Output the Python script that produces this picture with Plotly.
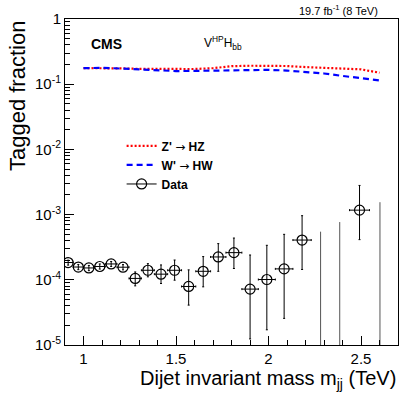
import plotly.graph_objects as go

# ---------------- data ----------------
bin_edges = [0.890, 0.944, 1.000, 1.058, 1.118, 1.181, 1.246, 1.313, 1.383, 1.455,
             1.530, 1.607, 1.687, 1.770, 1.856, 1.945, 2.037, 2.132, 2.231, 2.332,
             2.438, 2.546, 2.659]
data_frac = [1.84e-4, 1.57e-4, 1.52e-4, 1.60e-4, 1.75e-4, 1.56e-4, 1.05e-4, 1.40e-4,
             1.22e-4, 1.40e-4, 7.9e-5, 1.35e-4, 2.24e-4, 2.61e-4, 7.2e-5, 1.01e-4,
             1.47e-4, 4.07e-4, 0.0, 0.0, 1.17e-3, 0.0]
data_up = [2.00e-4, 1.72e-4, 1.66e-4, 1.75e-4, 1.91e-4, 1.71e-4, 1.32e-4, 1.77e-4,
           1.69e-4, 2.01e-4, 1.42e-4, 2.27e-4, 3.59e-4, 4.37e-4, 2.40e-4, 3.38e-4,
           4.98e-4, 9.62e-4, 5.47e-4, 7.69e-4, 2.80e-3, 1.55e-3]
data_lo = [1.68e-4, 1.43e-4, 1.38e-4, 1.46e-4, 1.60e-4, 1.42e-4, 8.07e-5, 1.11e-4,
           8.77e-5, 9.86e-5, 4.09e-5, 7.8e-5, 1.35e-4, 1.49e-4, 1.24e-5, 1.71e-5,
           2.56e-5, 1.44e-4, 0.0, 0.0, 4.13e-4, 0.0]

signal_mass = [1.0, 1.1, 1.2, 1.3, 1.4, 1.5, 1.6, 1.7, 1.8, 1.9, 2.0, 2.1, 2.2, 2.3,
               2.4, 2.5, 2.6]
zprime_hz = [0.176, 0.177, 0.175, 0.172, 0.171, 0.170, 0.171, 0.176, 0.189, 0.192,
             0.193, 0.190, 0.183, 0.178, 0.174, 0.169, 0.150]
wprime_hw = [0.176, 0.178, 0.174, 0.169, 0.163, 0.159, 0.160, 0.162, 0.165, 0.166,
             0.166, 0.162, 0.155, 0.146, 0.134, 0.122, 0.114]

y_tick_vals = [1e-5, 1e-4, 1e-3, 1e-2, 1e-1, 1]
y_tick_text = ["10<sup>-5</sup>", "10<sup>-4</sup>", "10<sup>-3</sup>",
               "10<sup>-2</sup>", "10<sup>-1</sup>", "1"]
x_tick_vals = [1, 1.5, 2, 2.5]
x_tick_text = ["1", "1.5", "2", "2.5"]

Y_MIN_LOG, Y_MAX_LOG = -5, 0
X_MIN, X_MAX = 0.9, 2.7
Y_MIN = 10 ** Y_MIN_LOG

FONT = "Liberation Sans, Arial, Helvetica, sans-serif"
ARROW = '\u00a0<span style="font-family:DejaVu Sans;font-weight:normal">\u2192</span>\u00a0'

# ---------------- derived ----------------
centers = [(bin_edges[i] + bin_edges[i + 1]) / 2 for i in range(len(bin_edges) - 1)]
half_w = [(bin_edges[i + 1] - bin_edges[i]) / 2 for i in range(len(bin_edges) - 1)]

px, py, ex, eup, edn = [], [], [], [], []
zx, zy = [], []
for c, w, v, u, l in zip(centers, half_w, data_frac, data_up, data_lo):
    if v > 0:
        px.append(c)
        py.append(v)
        ex.append(w)
        eup.append(u - v)
        edn.append(v - l)
    else:
        zx += [c, c, None]
        zy += [Y_MIN, u, None]

fig = go.Figure()

fig.add_trace(go.Scatter(
    x=signal_mass, y=zprime_hz, mode="lines", name="Z'" + ARROW + "HZ",
    line=dict(color="#ff0000", width=2.2, dash="2px,2px"),
))
fig.add_trace(go.Scatter(
    x=signal_mass, y=wprime_hw, mode="lines", name="W'" + ARROW + "HW",
    line=dict(color="#0000ff", width=2.2, dash="6px,4px"),
))
# legend-only entry for data (line + open circle, as in the ROOT legend)
fig.add_trace(go.Scatter(
    x=[None], y=[None], mode="lines+markers", name="Data",
    marker=dict(symbol="circle-open", size=10, color="black", line=dict(width=1.2)),
    line=dict(color="black", width=1),
))
fig.add_trace(go.Scatter(
    x=zx, y=zy, mode="lines", showlegend=False, hoverinfo="skip",
    line=dict(color="#555555", width=1),
))
fig.add_trace(go.Scatter(
    x=px, y=py, mode="markers", name="Data", showlegend=False,
    marker=dict(symbol="circle-open", size=10, color="black", line=dict(width=1.2)),
    error_x=dict(type="data", array=ex, color="black", thickness=1, width=1),
    error_y=dict(type="data", symmetric=False, array=eup, arrayminus=edn,
                 color="black", thickness=1, width=1),
))

fig.update_layout(
    width=407, height=398,
    margin=dict(l=65, r=9, t=19, b=53),
    paper_bgcolor="white", plot_bgcolor="white",
    font=dict(family=FONT, color="black"),
    showlegend=True,
    legend=dict(x=0.17, y=0.655, xanchor="left", yanchor="top",
                bgcolor="rgba(0,0,0,0)", font=dict(size=12, family=FONT, weight="bold"),
                tracegroupgap=2, itemwidth=30),
)

fig.update_xaxes(
    type="linear", range=[X_MIN, X_MAX],
    tickvals=x_tick_vals, ticktext=x_tick_text,
    ticks="inside", ticklen=9, tickwidth=1, tickcolor="black",
    minor=dict(ticks="inside", ticklen=5, dtick=0.1, tick0=0.9, tickcolor="black", showgrid=False),
    showline=True, linecolor="black", linewidth=1, mirror=True,
    showgrid=False, zeroline=False,
    tickfont=dict(size=15, family=FONT),
)
fig.update_yaxes(
    type="log", range=[Y_MIN_LOG, Y_MAX_LOG],
    tickvals=y_tick_vals, ticktext=y_tick_text,
    ticks="inside", ticklen=9, tickwidth=1, tickcolor="black",
    minor=dict(ticks="inside", ticklen=5, dtick="D1", tickcolor="black", showgrid=False),
    showline=True, linecolor="black", linewidth=1, mirror=True,
    showgrid=False, zeroline=False,
    tickfont=dict(size=15, family=FONT),
)

fig.add_annotation(
    text="19.7 fb<sup>-1</sup> (8 TeV)", xref="paper", yref="paper",
    x=0.946, y=1.0, xanchor="right", yanchor="bottom", showarrow=False,
    font=dict(size=11, family=FONT),
)
fig.add_annotation(
    text="<b>CMS</b>", xref="paper", yref="paper",
    x=0.072, y=0.923, xanchor="left", yanchor="middle", showarrow=False,
    font=dict(size=14, family=FONT),
)
fig.add_annotation(
    text="V<sup>HP</sup>H<sub>bb</sub>", xref="paper", yref="paper",
    x=0.41, y=0.925, xanchor="left", yanchor="middle", showarrow=False,
    font=dict(size=12, family=FONT),
)
fig.add_annotation(
    text="Dijet invariant mass m<sub>jj</sub> (TeV)", xref="paper", yref="paper",
    x=1.0, y=-0.105, xanchor="right", yanchor="middle", showarrow=False,
    font=dict(size=20, family=FONT),
)
fig.add_annotation(
    text="Tagged fraction", xref="paper", yref="paper",
    x=-0.144, y=1.0, xanchor="center", yanchor="top", textangle=-90, showarrow=False,
    font=dict(size=22, family=FONT),
)

fig.write_html("out.html", config={"displayModeBar": False},
               post_script="document.body.style.margin='0';")
